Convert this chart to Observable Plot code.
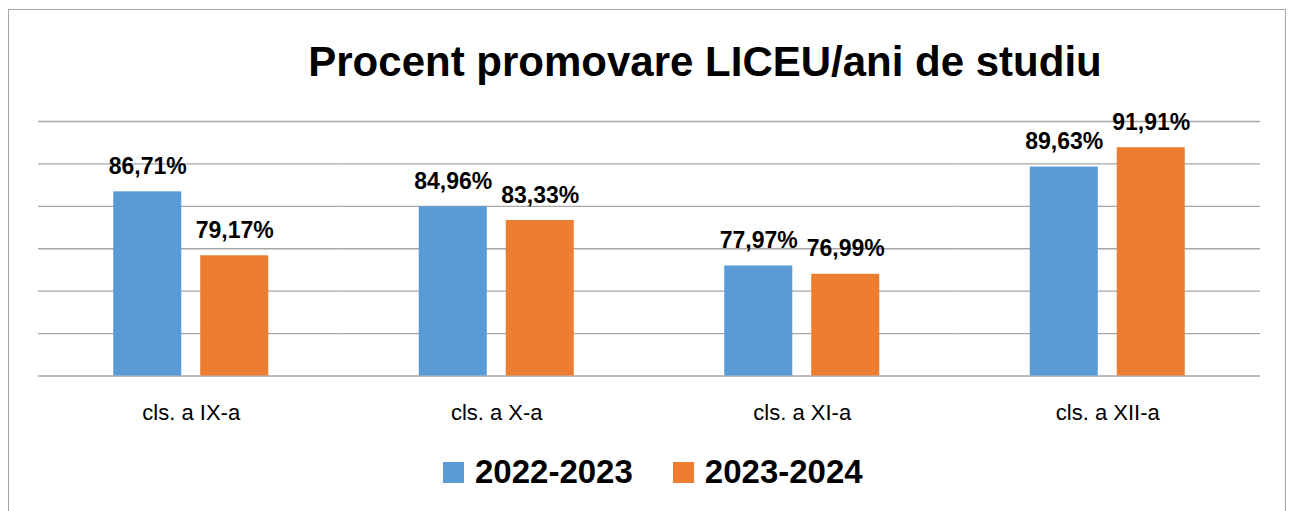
<!DOCTYPE html>
<html>
<head>
<meta charset="utf-8">
<script src="https://cdn.jsdelivr.net/npm/d3@7"></script>
<script src="https://cdn.jsdelivr.net/npm/@observablehq/plot@0.6"></script>
<style>
  html, body { margin: 0; padding: 0; background: #fff; }
  #wrap { position: relative; width: 1292px; height: 511px; overflow: hidden; font-family: "Liberation Sans", Arial, sans-serif; }
  #frame { position: absolute; left: 8px; top: 9px; width: 1278px; height: 600px; border: 1.5px solid #a6a6a6; box-sizing: border-box; }
  #title { position: absolute; left: 705px; top: 41px; transform: translateX(-50%); white-space: nowrap; font-size: 42px; line-height: 42px; font-weight: bold; color: #000; }
  #chart svg { position: absolute; left: 0; top: 0; }
  #legend { position: absolute; left: 443px; top: 455px; white-space: nowrap; font-size: 33px; line-height: 33px; font-weight: bold; color: #000; }
  #legend .sw { display: inline-block; width: 21px; height: 21px; margin-right: 11px; }
  #legend .item + .item { margin-left: 40px; }
</style>
</head>
<body>
<div id="wrap">
  <div id="frame"></div>
  <div id="chart"></div>
  <div id="title"></div>
  <div id="legend"></div>
</div>
<script>
const titleText = "Procent promovare LICEU/ani de studiu";
const categories = ["cls. a IX-a", "cls. a X-a", "cls. a XI-a", "cls. a XII-a"];
const years = ["2022-2023", "2023-2024"];
const values2022 = [86.71, 84.96, 77.97, 89.63];
const values2023 = [79.17, 83.33, 76.99, 91.91];
const gridValues = [65, 70, 75, 80, 85, 90, 95];
const yDomain = [65, 95];
const colors = ["#5B9BD5", "#ED7D31"];

const data = categories.flatMap((c, i) => [
  {cls: c, year: years[0], value: values2022[i]},
  {cls: c, year: years[1], value: values2023[i]}
]);
const fmt = v => v.toFixed(2).replace(".", ",") + "%";

document.getElementById("title").textContent = titleText;

const plot = Plot.plot({
  width: 1292,
  height: 440,
  marginLeft: 38,
  marginRight: 32,
  marginTop: 121,
  marginBottom: 64.5,
  style: {fontFamily: "'Liberation Sans', Arial, sans-serif", fontSize: "22px", color: "#000", background: "transparent", overflow: "visible"},
  fx: {domain: categories, padding: 0, round: false, axis: "bottom", label: null, tickSize: 0, tickPadding: 28},
  x: {domain: years, paddingInner: 0.218, paddingOuter: 0.865, round: false, axis: null},
  y: {domain: yDomain, axis: null},
  color: {domain: years, range: colors},
  marks: [
    Plot.ruleY(gridValues, {stroke: "#a6a6a6", strokeWidth: 1.3}),
    Plot.barY(data, {fx: "cls", x: "year", y1: yDomain[0], y2: "value", fill: "year"}),
    Plot.text(data, {fx: "cls", x: "year", y: "value", text: d => fmt(d.value), dy: -18, lineAnchor: "bottom", fontSize: 23, fontWeight: "bold", fill: "#000"})
  ]
});
document.getElementById("chart").appendChild(plot);

const legend = document.getElementById("legend");
years.forEach((y, i) => {
  const item = document.createElement("span");
  item.className = "item";
  const sw = document.createElement("span");
  sw.className = "sw";
  sw.style.background = colors[i];
  item.appendChild(sw);
  item.appendChild(document.createTextNode(y));
  legend.appendChild(item);
});
</script>
</body>
</html>
